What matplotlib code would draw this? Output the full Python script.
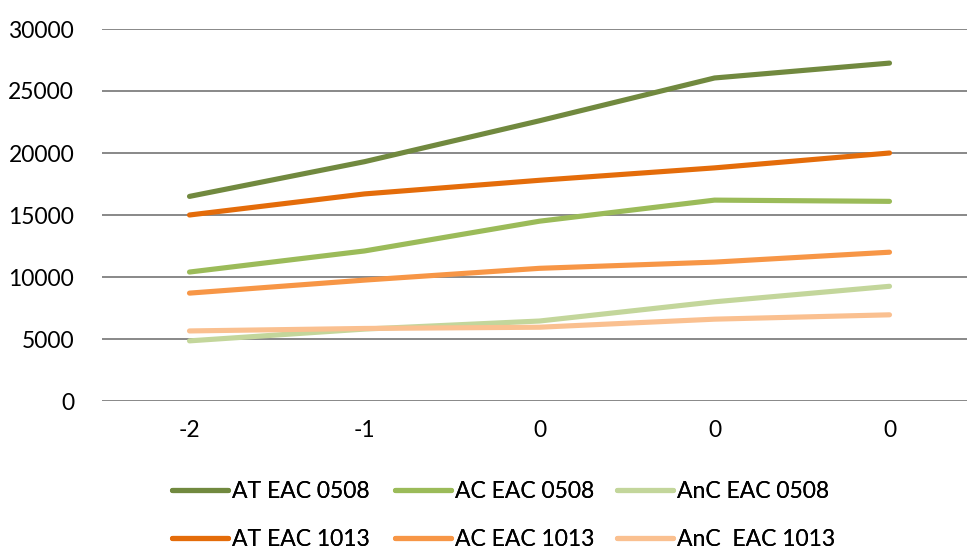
import matplotlib
matplotlib.use("Agg")
import matplotlib.pyplot as plt

categories = ["-2", "-1", "0", "0", "0"]
at_0508 = [16500, 19300, 22600, 26050, 27250]
ac_0508 = [10400, 12100, 14500, 16200, 16100]
anc_0508 = [4850, 5800, 6450, 8000, 9250]
at_1013 = [15000, 16700, 17800, 18800, 20000]
ac_1013 = [8700, 9750, 10700, 11200, 12000]
anc_1013 = [5650, 5850, 5950, 6600, 6950]
labels = ["AT EAC 0508", "AC EAC 0508", "AnC EAC 0508",
          "AT EAC 1013", "AC EAC 1013", "AnC  EAC 1013"]
colors = ["#71893F", "#9BBB59", "#C3D69B", "#E46C0A", "#F79646", "#FAC090"]

plt.rcParams['font.family'] = ['Lato', 'DejaVu Sans']

W, H = 967, 550
fig = plt.figure(figsize=(W/100, H/100), dpi=100)
ax = fig.add_axes([102/W, (H-401)/H, (977-102)/W, (401-29)/H])

x = list(range(len(categories)))
series = [at_0508, ac_0508, anc_0508, at_1013, ac_1013, anc_1013]
lines = []
for s, c, l in zip(series, colors, labels):
    ln, = ax.plot(x, s, color=c, lw=3.7, solid_capstyle='round', label=l, zorder=3)
    lines.append(ln)

ax.set_xlim(-0.5, 4.5)
ax.set_ylim(0, 30000)
ax.set_yticks(range(0, 30001, 5000))
ax.set_xticks(x)
ax.set_xticklabels(categories)
ax.yaxis.grid(True, color="#888888", lw=1.4)
ax.set_axisbelow(True)
for sp in ax.spines.values():
    sp.set_visible(False)
ax.tick_params(axis='both', length=0, labelsize=16.5, colors='black')
ax.tick_params(axis='y', pad=20)
ax.tick_params(axis='x', pad=14)

col_x = [172, 395, 617]
for k in range(3):
    leg = fig.legend([lines[k], lines[k + 3]], [labels[k], labels[k + 3]],
                     loc='upper left', bbox_to_anchor=(col_x[k]/W, 1 - 481/H),
                     frameon=False, fontsize=16.5, handlelength=2.45,
                     handletextpad=0.15, labelspacing=1.2,
                     borderpad=0, borderaxespad=0)
    fig.add_artist(leg)

fig.savefig("out.png", dpi=100)
